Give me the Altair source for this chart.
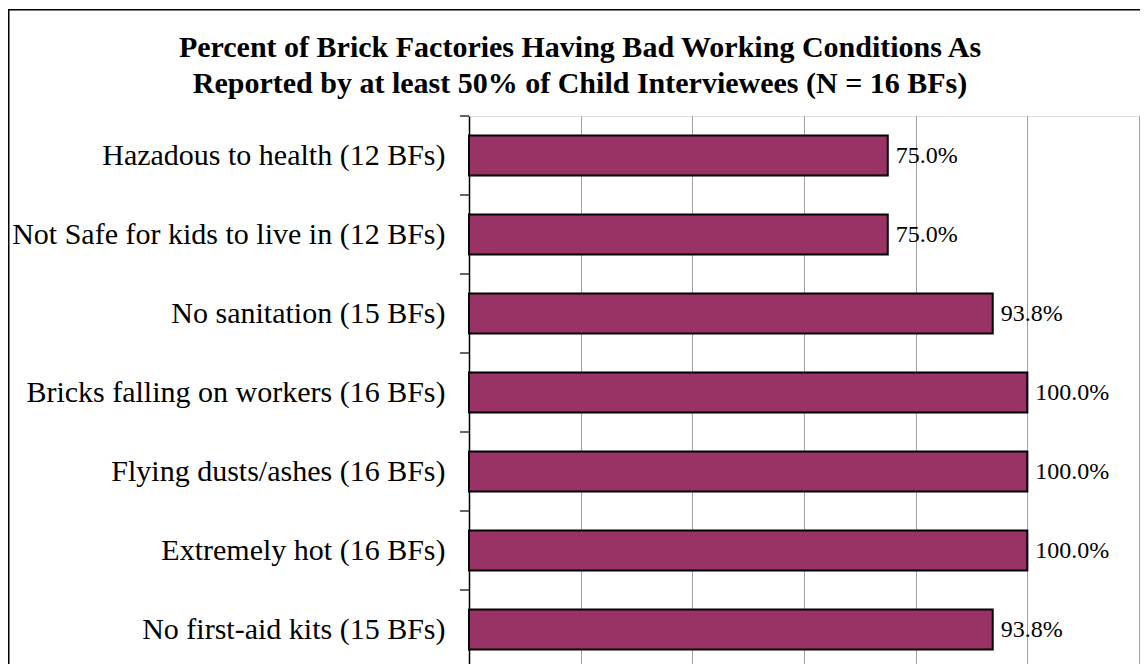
import altair as alt
import pandas as pd

categories = [
    "Hazadous to health (12 BFs)",
    "Not Safe for kids to live in (12 BFs)",
    "No sanitation (15 BFs)",
    "Bricks falling on workers (16 BFs)",
    "Flying dusts/ashes (16 BFs)",
    "Extremely hot (16 BFs)",
    "No first-aid kits (15 BFs)",
]
percents = [0.75, 0.75, 0.938, 1.0, 1.0, 1.0, 0.938]
x_ticks = [0, 0.2, 0.4, 0.6, 0.8, 1.0, 1.2]
title_lines = [
    "Percent of Brick Factories Having Bad Working Conditions As",
    "Reported by at least 50% of Child Interviewees (N = 16 BFs)",
]

df = pd.DataFrame({"cat": categories, "pct": percents})
FONT = "Liberation Serif"

base = alt.Chart(df)
y_enc = alt.Y(
    "cat:N",
    sort=categories,
    scale=alt.Scale(paddingInner=0, paddingOuter=0),
    axis=alt.Axis(
        title=None,
        labelFont=FONT,
        labelFontSize=30,
        labelColor="black",
        labelLimit=0,
        labelPadding=24,
        ticks=False,
        tickSize=0,
        domainColor="black",
        domainWidth=1.5,
        grid=False,
    ),
)
x_enc = alt.X(
    "pct:Q",
    scale=alt.Scale(domain=[0, 1.2], nice=False, zero=True),
    axis=alt.Axis(
        title=None,
        values=x_ticks,
        labels=False,
        ticks=False,
        domain=False,
        grid=True,
        gridColor="#a0a0a0",
        gridWidth=1,
    ),
)

bars = base.mark_bar(size=40, color="#993366", stroke="black", strokeWidth=2).encode(
    y=y_enc, x=x_enc
)

labels = base.mark_text(
    align="left", baseline="middle", dx=8, font=FONT, fontSize=24, color="black"
).encode(
    y=alt.Y("cat:N", sort=categories),
    x=alt.X("pct:Q"),
    text=alt.Text("pct:Q", format=".1%"),
)

ticks = base.mark_rule(color="#333333", strokeWidth=1.5).encode(
    y=alt.Y("cat:N", sort=categories, bandPosition=0),
    x=alt.value(-9),
    x2=alt.value(0),
)

frame = alt.Chart(alt.Data(values=[{"k": 1}])).mark_rect(
    filled=False, stroke="black", strokeWidth=1.5
).encode(
    x=alt.value(-460.25),
    x2=alt.value(720),
    y=alt.value(-106.3),
    y2=alt.value(720),
)

chart = (
    alt.layer(frame, bars, ticks, labels)
    .properties(
        width=670,
        height=553,
        padding={"left": 461, "top": 108, "right": 1, "bottom": -5},
        autosize=alt.AutoSizeParams(type="none"),
        title=alt.TitleParams(
            text=title_lines,
            font=FONT,
            fontSize=30,
            fontWeight="bold",
            color="black",
            anchor="middle",
            lineHeight=36,
            dx=-224,
            offset=-90.5,
        ),
    )
    .configure_view(stroke="#808080", strokeWidth=2)
    .configure(background="white")
)

chart.save("out.html", embed_options={"renderer": "svg", "actions": False})
